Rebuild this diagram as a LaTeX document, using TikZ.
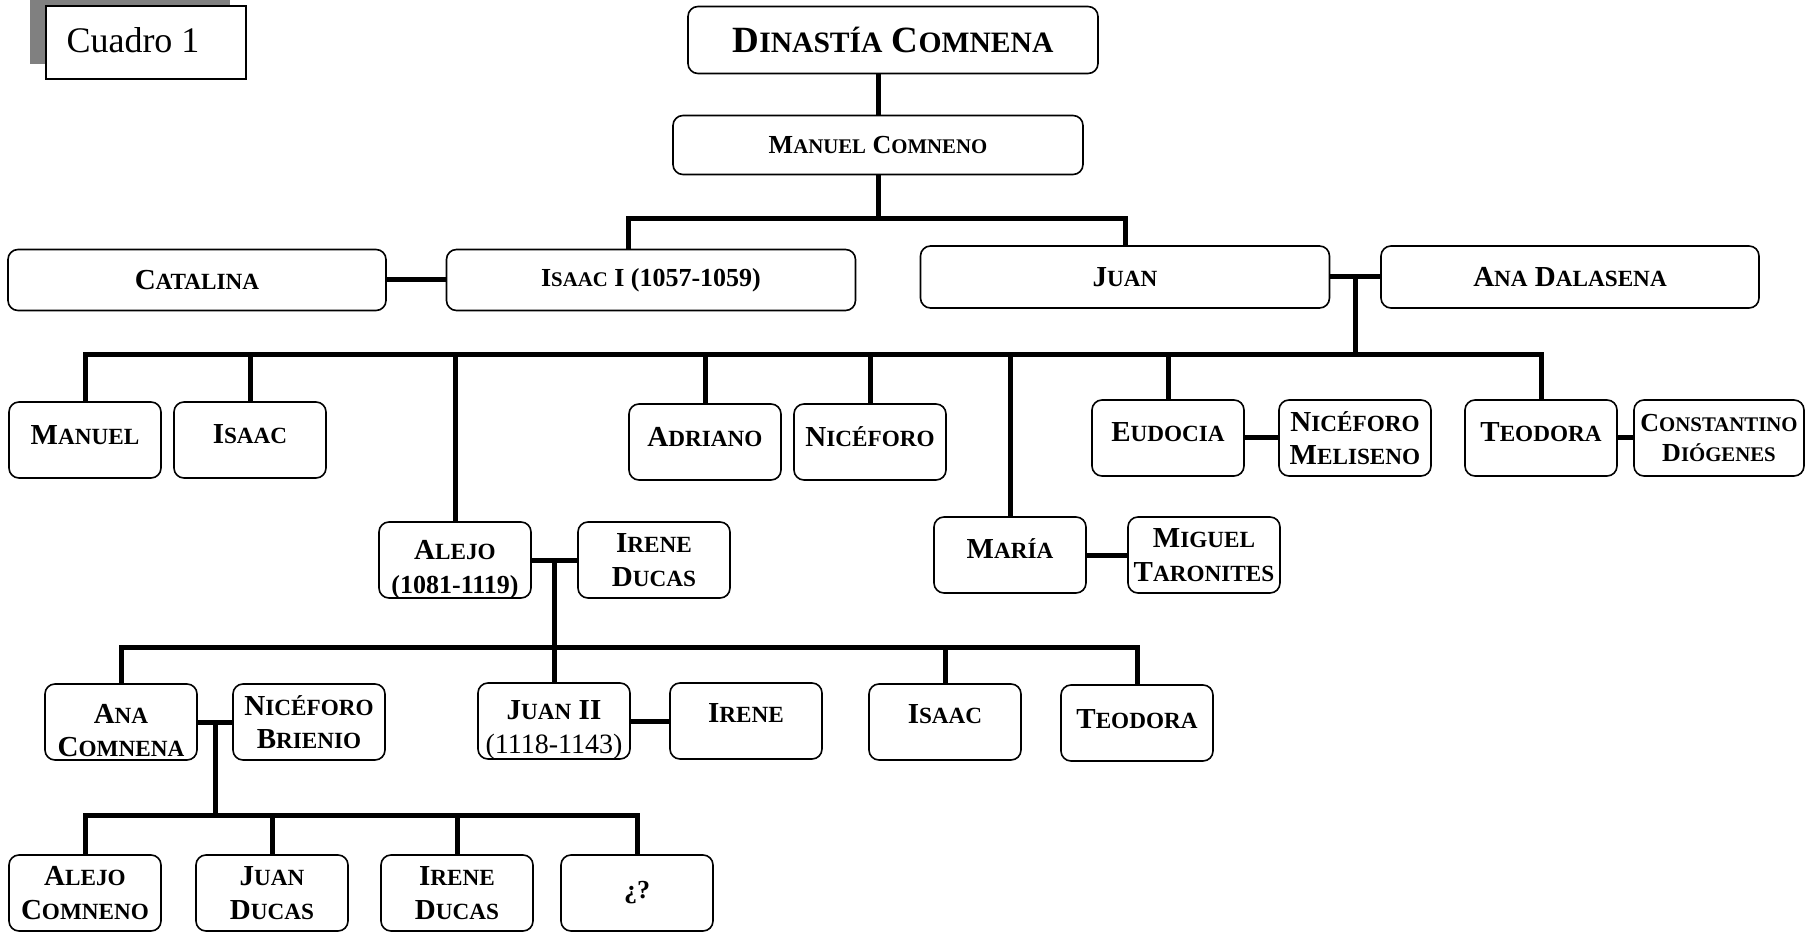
\documentclass[tikz,border=0pt]{standalone}
\usepackage{fontspec}
\setmainfont{Liberation Serif}
\usepackage{tikz,graphicx}
\usetikzlibrary{calc}

\newcommand{\vsc}[2]{#1\scalebox{.8}{#2}}

\tikzset{
  caja/.style={draw,rounded corners=5pt,line width=.8pt,align=center,inner sep=0pt,
    font=\bfseries\fontsize{14.5}{16.7}\selectfont},
  hijo/.style={caja,minimum width=76pt,minimum height=38pt},
  ancha/.style={caja,minimum width=204.5pt,minimum height=30.5pt},
  rama/.style={line width=2.5pt},
}

\begin{document}
\begin{tikzpicture}
	[x=.5pt,y=-.5pt]

\useasboundingbox (0,0) rectangle (1806,936);

% cuadro
	\fill[black!50] (30,-9) rectangle (230,64);
	\node[draw,fill=white,line width=.9pt,minimum width=100pt,minimum height=36.5pt,inner sep=0pt] (cuadro) at (146,42.5) {};
	\node[font=\fontsize{18}{20}\selectfont] (cuadrotxt) at (133,40) {Cuadro 1};

	\node[caja,minimum width=205pt,minimum height=33.5pt,font=\bfseries\fontsize{18.5}{20}\selectfont] (dinastia) at (893,40) {\vsc{D}{INASTÍA} \vsc{C}{OMNENA}};
	\node[caja,minimum width=205pt,minimum height=29.5pt,font=\bfseries\fontsize{13}{15}\selectfont] (mcomneno) at (878,145) {\vsc{M}{ANUEL} \vsc{C}{OMNENO}};

	\node[ancha,minimum width=189pt] (catalina) at (197,280) {\vsc{C}{ATALINA}};
	\node[ancha,font=\bfseries\fontsize{13}{15}\selectfont] (isaac1) at (651,280) {\vsc{I}{SAAC} I (1057-1059)};
	\node[ancha,minimum height=31pt] (juan) at (1125,277) {\vsc{J}{UAN}};
	\node[ancha,minimum width=189pt,minimum height=31pt] (ana) at (1570,277) {\vsc{A}{NA} \vsc{D}{ALASENA}};

% hijos de Juan
	\node[hijo,text depth=5pt] (manuel) at (85,440) {\vsc{M}{ANUEL}};
	\node[hijo,text depth=6pt] (isaac) at (250,440) {\vsc{I}{SAAC}};
	\node[hijo,text depth=5pt] (adriano) at (705,442) {\vsc{A}{DRIANO}};
	\node[hijo,text depth=5pt] (niceforo) at (870,442) {\vsc{N}{ICÉFORO}};
	\node[hijo,text depth=6pt] (eudocia) at (1168,438) {\vsc{E}{UDOCIA}};
	\node[hijo] (meliseno) at (1355,438) {\vsc{N}{ICÉFORO}\\\vsc{M}{ELISENO}};
	\node[hijo,text depth=6pt] (teodora) at (1541,438) {\vsc{T}{EODORA}};
	\node[hijo,minimum width=85pt,font=\bfseries\fontsize{13}{15}\selectfont] (constantino) at (1719,438) {\vsc{C}{ONSTANTINO}\\\vsc{D}{IÓGENES}};

	\node[hijo,text height=33pt,text depth=0pt] (alejo) at (455,560) {\vsc{A}{LEJO}\\{\fontsize{13}{15}\selectfont(1081-1119)}};
	\node[hijo] (irened) at (654,560) {\vsc{I}{RENE}\\\vsc{D}{UCAS}};
	\node[hijo,text depth=6pt] (maria) at (1010,555) {\vsc{M}{ARÍA}};
	\node[hijo] (miguel) at (1204,555) {\vsc{M}{IGUEL}\\\vsc{T}{ARONITES}};

% hijos de Alejo
	\node[hijo,text height=34.5pt,text depth=0pt] (anacom) at (121,722) {\vsc{A}{NA}\\\vsc{C}{OMNENA}};
	\node[hijo] (brienio) at (309,722) {\vsc{N}{ICÉFORO}\\\vsc{B}{RIENIO}};
	\node[hijo,text height=32pt,text depth=0pt] (juan2) at (554,721) {\vsc{J}{UAN} II\\{\mdseries\fontsize{14}{15}\selectfont(1118-1143)}};
	\node[hijo,text depth=8pt] (irene) at (746,721) {\vsc{I}{RENE}};
	\node[hijo,text depth=8pt] (isaac3) at (945,722) {\vsc{I}{SAAC}};
	\node[hijo,text depth=4pt] (teodora3) at (1137,723) {\vsc{T}{EODORA}};

% hijos de Ana
	\node[hijo] (alejoc) at (85,893) {\vsc{A}{LEJO}\\\vsc{C}{OMNENO}};
	\node[hijo] (juand) at (272,893) {\vsc{J}{UAN}\\\vsc{D}{UCAS}};
	\node[hijo] (irened2) at (457,893) {\vsc{I}{RENE}\\\vsc{D}{UCAS}};
	\node[hijo,font=\bfseries\fontsize{13}{15}\selectfont] (nose) at (637,893) {¿?};

% lineas
	\coordinate (b2) at (0,219);
	\coordinate (b3) at (0,355);
	\coordinate (b4) at (0,647);
	\coordinate (b5) at (0,815);

	\draw[rama] (mcomneno.north) -- (mcomneno.north |- dinastia.south);
	\draw[rama] (mcomneno.south) -- (mcomneno.south |- b2) -| (juan.north);
	\draw[rama] (mcomneno.south) -- (mcomneno.south |- b2) -| ([xshift=-11.5pt]isaac1.north);
	\draw[rama] (catalina) -- (isaac1);

	\draw[rama] (juan) -- (ana);
	\coordinate (u1) at ($(juan.east)!.5!(ana.west)$);
	\foreach \h in {manuel,isaac,alejo,adriano,niceforo,maria,eudocia,teodora}
	{
	 \draw[rama] (u1) -- (u1 |- b3) -| (\h.north);
	}
	\draw[rama] (eudocia) -- (meliseno);
	\draw[rama] (teodora) -- (constantino);
	\draw[rama] (maria) -- (miguel);

	\draw[rama] (alejo) -- (irened);
	\coordinate (u2) at ($(alejo.east)!.5!(irened.west)$);
	\foreach \h in {anacom,juan2,isaac3,teodora3}
	{
	 \draw[rama] (u2) -- (u2 |- b4) -| (\h.north);
	}
	\draw[rama] (juan2) -- (irene);

	\draw[rama] (anacom) -- (brienio);
	\coordinate (u3) at ($(anacom.east)!.5!(brienio.west)$);
	\foreach \h in {alejoc,juand,irened2,nose}
	{
	 \draw[rama] (u3) -- (u3 |- b5) -| (\h.north);
	}

\end{tikzpicture}
\end{document}
